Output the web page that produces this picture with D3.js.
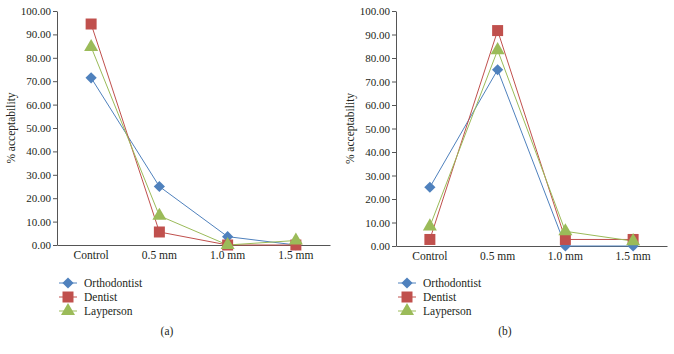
<!DOCTYPE html>
<html>
<head>
<meta charset="utf-8">
<script src="https://cdn.jsdelivr.net/npm/d3@7"></script>
<style>
  body { margin: 0; background: #fff; }
  svg text { font-family: "Times New Roman", "Liberation Serif", "Noto Serif", "DejaVu Serif", serif; fill: #231f20; }
</style>
</head>
<body>
<svg id="chart" width="674" height="354"></svg>
<script>
'use strict';

// categories and tick labels
const categories = ["Control", "0.5 mm", "1.0 mm", "1.5 mm"];
const yTicks = [0, 10, 20, 30, 40, 50, 60, 70, 80, 90, 100];
const seriesNames = ["Orthodontist", "Dentist", "Layperson"];
const seriesColors = ["#4f81bd", "#c0504d", "#9bbb59"];
const seriesShapes = ["diamond", "square", "triangle"];

// panel (a)
const orthoA = [71.43, 25.0, 3.57, 0.0];
const dentistA = [94.44, 5.56, 0.0, 0.0];
const laypersonA = [84.62, 12.5, 0.0, 1.92];

// panel (b)
const orthoB = [25.0, 75.0, 0.0, 0.0];
const dentistB = [2.78, 91.67, 2.78, 2.78];
const laypersonB = [8.33, 83.33, 6.25, 2.08];

const FONT = '"Times New Roman", "Liberation Serif", "Noto Serif", "DejaVu Serif", serif';

const svg = d3.select("#chart");

function symbolPath(shape) {
    if (shape === "diamond") return d3.symbol().type(d3.symbolDiamond2).size(80)();
    if (shape === "square") return d3.symbol().type(d3.symbolSquare).size(121)();
    return d3.symbol().type(d3.symbolTriangle).size(85)();
}

function drawPanel(opts) {
    const g = svg.append("g");

    const x = d3.scaleBand()
        .domain(categories)
        .range([opts.left, opts.right]);

    const y = d3.scaleLinear()
        .domain([0, 100])
        .range([opts.bottom, opts.top]);

    // y axis
    const yAxis = g.append("g")
        .attr("transform", `translate(${opts.left},0)`)
        .call(d3.axisLeft(y).tickValues(yTicks).tickSize(4).tickSizeOuter(0)
            .tickFormat(d3.format(".2f")));
    yAxis.attr("font-family", FONT);
    yAxis.select(".domain").attr("stroke", "#555");
    yAxis.selectAll(".tick line").attr("stroke", "#555");
    yAxis.selectAll("text")
        .attr("x", -6)
        .style("font-size", "11px")
        .attr("fill", "#231f20");

    // x axis
    const xAxis = g.append("g")
        .attr("transform", `translate(0,${opts.bottom})`)
        .call(d3.axisBottom(x).tickSize(0).tickSizeOuter(0));
    xAxis.attr("font-family", FONT);
    xAxis.select(".domain").attr("stroke", "#555");
    xAxis.selectAll("text")
        .attr("y", 6)
        .style("font-size", "11.5px")
        .attr("fill", "#231f20");

    // y label
    g.append("text")
        .attr("transform", `translate(${opts.left - 42},${(opts.top + opts.bottom) / 2}) rotate(-90)`)
        .attr("text-anchor", "middle")
        .style("font-size", "11.5px")
        .text("% acceptability");

    const line = d3.line()
        .x((d, i) => x(categories[i]) + x.bandwidth() / 2)
        .y(d => y(d));

    opts.series.forEach((vals, s) => {
        g.append("path")
            .datum(vals)
            .attr("fill", "none")
            .attr("stroke", seriesColors[s])
            .attr("stroke-width", 1)
            .attr("d", line);
    });

    opts.series.forEach((vals, s) => {
        g.selectAll(null)
            .data(vals)
            .enter()
            .append("path")
            .attr("d", symbolPath(seriesShapes[s]))
            .attr("fill", seriesColors[s])
            .attr("transform", (d, i) => `translate(${x(categories[i]) + x.bandwidth() / 2},${y(d)})`);
    });

    // legend
    const legend = g.selectAll(".legend")
        .data(seriesNames)
        .enter()
        .append("g")
        .attr("transform", (d, i) => `translate(${opts.legendX},${283 + i * 14})`);

    legend.append("line")
        .attr("x1", -9).attr("x2", 9)
        .attr("stroke", (d, i) => seriesColors[i]);

    legend.append("path")
        .attr("d", (d, i) => symbolPath(seriesShapes[i]))
        .attr("fill", (d, i) => seriesColors[i]);

    legend.append("text")
        .attr("x", 16)
        .attr("dy", "0.35em")
        .style("font-size", "11.5px")
        .text(d => d);

    g.append("text")
        .attr("x", opts.labelX)
        .attr("y", 335)
        .attr("text-anchor", "middle")
        .style("font-size", "11.5px")
        .text(opts.label);
}

drawPanel({
    left: 57, right: 330, top: 11, bottom: 245,
    series: [orthoA, dentistA, laypersonA],
    legendX: 68, labelX: 167, label: "(a)"
});

drawPanel({
    left: 396, right: 667, top: 11, bottom: 246,
    series: [orthoB, dentistB, laypersonB],
    legendX: 407, labelX: 505, label: "(b)"
});
</script>
</body>
</html>
